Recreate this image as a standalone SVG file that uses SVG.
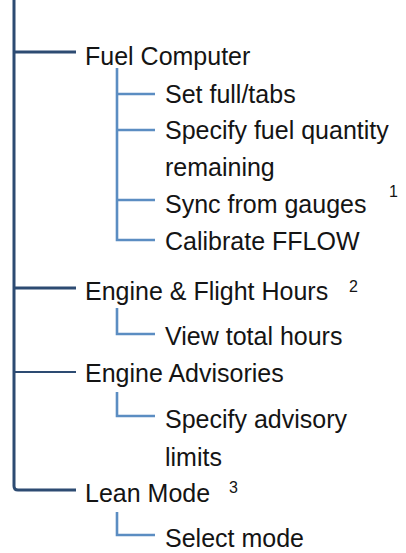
<svg xmlns="http://www.w3.org/2000/svg" width="406" height="553" viewBox="0 0 406 553">
<style>
.t{font-family:"Liberation Sans",Arial,sans-serif;font-size:25px;fill:#141414}
.s{font-family:"Liberation Sans",Arial,sans-serif;font-size:16px;fill:#141414}
.m{fill:none;stroke:#2d4b72;stroke-width:3}
.m2{fill:none;stroke:#2d4b72;stroke-width:1.8}
.c{fill:none;stroke:#5b8dc2;stroke-width:2.6}
</style>
<rect width="406" height="553" fill="#fff"/>
<g id="connectors">
<path class="m" d="M14 0 V486 Q14 490 18 490 H76"/>
<path class="m" d="M14 52 H76"/>
<path class="m" d="M14 288 H76"/>
<path class="m2" d="M14 372 H76"/>
<path class="c" d="M117 68 V240 H155"/>
<path class="c" d="M117 94 H155"/>
<path class="c" d="M117 130 H155"/>
<path class="c" d="M117 200 H155"/>
<path class="c" d="M117 308 V334 H155"/>
<path class="c" d="M117 392 V416 H155"/>
<path class="c" d="M117 512 V535 H155"/>
</g>
<g id="fuel-computer"><text class="t" x="85" y="65">Fuel Computer</text></g>
<g id="set-full-tabs"><text class="t" x="165" y="103">Set full/tabs</text></g>
<g id="specify-fuel"><text class="t" x="165" y="139">Specify fuel quantity</text><text class="t" x="165" y="176">remaining</text></g>
<g id="sync-gauges"><text class="t" x="165" y="213">Sync from gauges</text><text class="s" x="389" y="197">1</text></g>
<g id="calibrate"><text class="t" x="165" y="250">Calibrate FFLOW</text></g>
<g id="engine-flight"><text class="t" x="85" y="300">Engine &amp; Flight Hours</text><text class="s" x="349" y="292">2</text></g>
<g id="view-total"><text class="t" x="165" y="345">View total hours</text></g>
<g id="engine-adv"><text class="t" x="85" y="382">Engine Advisories</text></g>
<g id="specify-adv"><text class="t" x="165" y="428">Specify advisory</text><text class="t" x="165" y="466">limits</text></g>
<g id="lean-mode"><text class="t" x="85" y="502">Lean Mode</text><text class="s" x="229" y="493">3</text></g>
<g id="select-mode"><text class="t" x="165" y="547">Select mode</text></g>
</svg>
